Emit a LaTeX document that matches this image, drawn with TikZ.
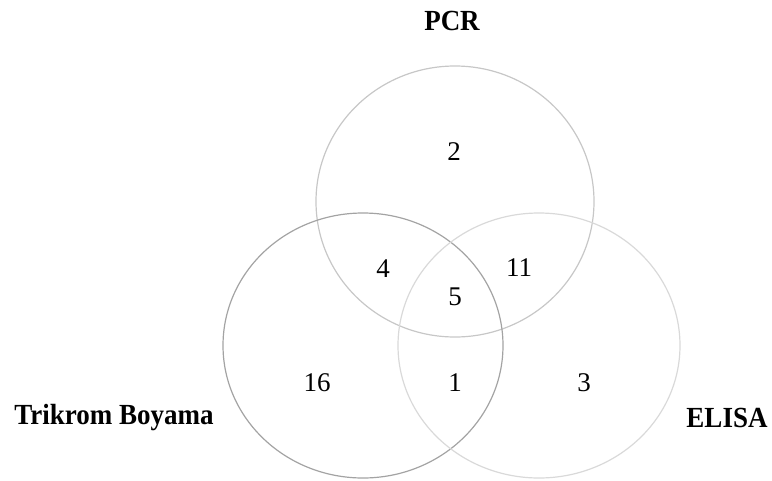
\documentclass[tikz,border=0pt]{standalone}
\usepackage{fontspec}
\setmainfont{Liberation Serif}
\begin{document}
\begin{tikzpicture}[x=1pt,y=-1pt,
  lbl/.style={font=\fontsize{27}{30}\selectfont\bfseries, inner sep=0pt, yscale=1.08},
  num/.style={font=\fontsize{27}{30}\selectfont, inner sep=0pt},
  ring/.style={line width=1.2pt}]
\useasboundingbox (0,0) rectangle (772,480);
\draw[ring, draw=black!22] (455,201.5) ellipse [x radius=139, y radius=135.5];
\draw[ring, draw=black!36] (363,345.5) ellipse [x radius=140, y radius=132.5];
\draw[ring, draw=black!15] (539,345.5) ellipse [x radius=141, y radius=132.5];
\node[lbl] (pcr) at (452,21) {PCR};
\node[lbl] (tb) at (114,418) {Trikrom Boyama};
\node[lbl] (el) at (727,418) {ELISA};
\node[num] (n2) at (454,152) {2};
\node[num] (n4) at (383,269) {4};
\node[num] (n11) at (519,268) {11};
\node[num] (n5) at (455,297) {5};
\node[num] (n16) at (317,383) {16};
\node[num] (n1) at (455,383) {1};
\node[num] (n3) at (584,383) {3};
\end{tikzpicture}
\end{document}
